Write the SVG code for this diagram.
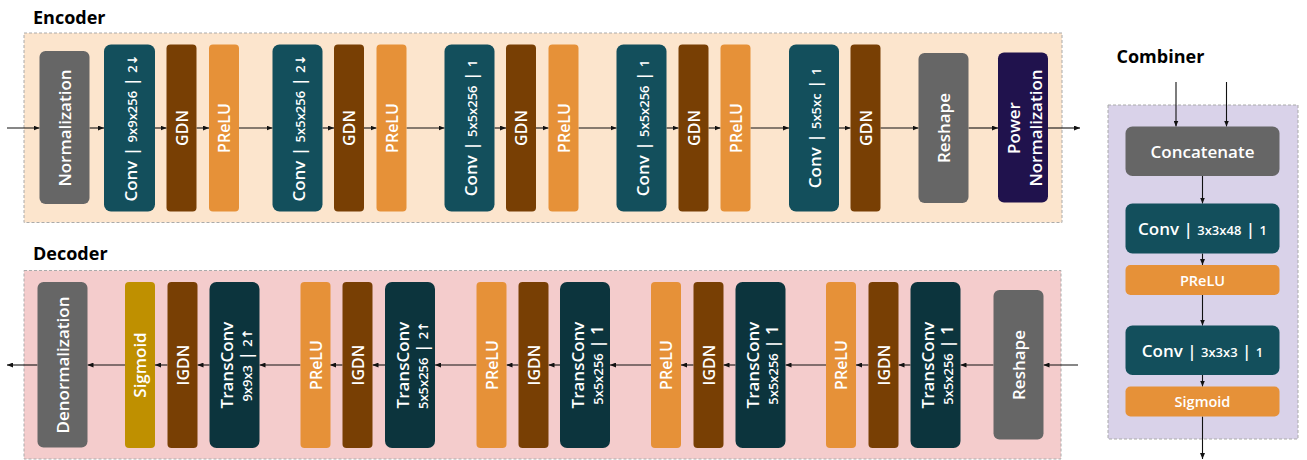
<svg xmlns="http://www.w3.org/2000/svg" width="1307" height="460" viewBox="0 0 1307 460">
<defs>
<marker id="ah" viewBox="0 0 6 5" refX="6" refY="2.5" markerWidth="6" markerHeight="5" markerUnits="userSpaceOnUse" orient="auto">
<path d="M0,0 L6,2.5 L0,5 z" fill="#111"/>
</marker>
<style>
.frame{stroke:#aaaaaa;stroke-width:1;stroke-dasharray:3,2}
.grey{fill:#666666}
.conv{fill:#134f5c}
.tconv{fill:#0c343d}
.gdn{fill:#783f04}
.prelu{fill:#e69138}
.pnorm{fill:#20124d}
.sig{fill:#bf9000}
.t{font-family:'Open Sans','Noto Sans','DejaVu Sans',sans-serif;font-weight:600;fill:#ffffff;text-anchor:middle;font-size:17px}
.m{font-size:16px}
.s{font-size:13px}
.cs{font-size:14.5px}
.title{font-family:'Open Sans','Noto Sans',sans-serif;font-weight:700;font-size:18px;fill:#000}
.c line{stroke:#111;stroke-width:1.1;marker-end:url(#ah)}
</style>
</defs>
<rect width="1307" height="460" fill="#ffffff"/>

<text class="title" x="33" y="24">Encoder</text>
<text class="title" x="33" y="260">Decoder</text>
<text class="title" x="1116.5" y="63">Combiner</text>

<rect class="frame" x="24" y="33" width="1038" height="189.5" fill="#fce5cd"/>
<rect class="frame" x="24" y="270.5" width="1037" height="188.5" fill="#f4cccc"/>
<rect class="frame" x="1108" y="105" width="190" height="334" fill="#d9d2e9"/>

<g id="connectors" class="c">
<line x1="7" y1="128" x2="39.5" y2="128"/>
<line x1="89.5" y1="128" x2="104" y2="128"/>
<line x1="155" y1="128" x2="166.5" y2="128"/>
<line x1="196.5" y1="128" x2="209" y2="128"/>
<line x1="239" y1="128" x2="272.5" y2="128"/>
<line x1="322.5" y1="128" x2="334" y2="128"/>
<line x1="364" y1="128" x2="376.5" y2="128"/>
<line x1="406.5" y1="128" x2="444.5" y2="128"/>
<line x1="494.5" y1="128" x2="506" y2="128"/>
<line x1="536" y1="128" x2="548.5" y2="128"/>
<line x1="578.5" y1="128" x2="616.5" y2="128"/>
<line x1="666.5" y1="128" x2="678.5" y2="128"/>
<line x1="708.5" y1="128" x2="720.5" y2="128"/>
<line x1="750.5" y1="128" x2="789" y2="128"/>
<line x1="839" y1="128" x2="850.5" y2="128"/>
<line x1="880.5" y1="128" x2="918.5" y2="128"/>
<line x1="968.5" y1="128" x2="998" y2="128"/>
<line x1="1048" y1="128" x2="1080" y2="128"/>

<line x1="1078" y1="365" x2="1043.5" y2="365"/>
<line x1="993.5" y1="365" x2="960.5" y2="365"/>
<line x1="910.5" y1="365" x2="898.5" y2="365"/>
<line x1="868.5" y1="365" x2="856" y2="365"/>
<line x1="826" y1="365" x2="785.5" y2="365"/>
<line x1="735.5" y1="365" x2="723.5" y2="365"/>
<line x1="693.5" y1="365" x2="681" y2="365"/>
<line x1="651" y1="365" x2="610" y2="365"/>
<line x1="560" y1="365" x2="548.5" y2="365"/>
<line x1="518.5" y1="365" x2="506.5" y2="365"/>
<line x1="476.5" y1="365" x2="435" y2="365"/>
<line x1="385" y1="365" x2="372.5" y2="365"/>
<line x1="342.5" y1="365" x2="330" y2="365"/>
<line x1="300.5" y1="365" x2="259.5" y2="365"/>
<line x1="209.5" y1="365" x2="197.5" y2="365"/>
<line x1="167.5" y1="365" x2="155" y2="365"/>
<line x1="125" y1="365" x2="87.5" y2="365"/>
<line x1="37.5" y1="365" x2="7" y2="365"/>

<line x1="1176" y1="82" x2="1176" y2="126.5"/>
<line x1="1226.5" y1="82" x2="1226.5" y2="126.5"/>
<line x1="1202.5" y1="176" x2="1202.5" y2="203.5"/>
<line x1="1202.5" y1="253.5" x2="1202.5" y2="265"/>
<line x1="1202.5" y1="295" x2="1202.5" y2="325.5"/>
<line x1="1202.5" y1="375" x2="1202.5" y2="386.5"/>
<line x1="1202.5" y1="416.5" x2="1202.5" y2="459"/>
</g>

<!-- Encoder -->
<g id="enc-norm"><rect class="grey" x="39.5" y="51" width="50" height="153" rx="6"/>
<text class="t" transform="translate(64.5,128) rotate(-90)" y="6">Normalization</text></g>
<g id="enc-conv1"><rect class="conv" x="104" y="44.5" width="51" height="167" rx="7"/>
<text class="t" transform="translate(129.5,128) rotate(-90)" y="7">Conv | <tspan class="s">9x9x256</tspan> | <tspan class="s">2↓</tspan></text></g>
<g id="enc-gdn1"><rect class="gdn" x="166.5" y="44.5" width="30" height="167" rx="4"/>
<text class="t m" transform="translate(181.5,128) rotate(-90)" y="6">GDN</text></g>
<g id="enc-prelu1"><rect class="prelu" x="209" y="44.5" width="30" height="167" rx="4"/>
<text class="t m" transform="translate(224,128) rotate(-90)" y="6">PReLU</text></g>

<g id="enc-conv2"><rect class="conv" x="272.5" y="44.5" width="50" height="167" rx="7"/>
<text class="t" transform="translate(297.5,128) rotate(-90)" y="7">Conv | <tspan class="s">5x5x256</tspan> | <tspan class="s">2↓</tspan></text></g>
<g id="enc-gdn2"><rect class="gdn" x="334" y="44.5" width="30" height="167" rx="4"/>
<text class="t m" transform="translate(349,128) rotate(-90)" y="6">GDN</text></g>
<g id="enc-prelu2"><rect class="prelu" x="376.5" y="44.5" width="30" height="167" rx="4"/>
<text class="t m" transform="translate(391.5,128) rotate(-90)" y="6">PReLU</text></g>

<g id="enc-conv3"><rect class="conv" x="444.5" y="44.5" width="50" height="167" rx="7"/>
<text class="t" transform="translate(469.5,128) rotate(-90)" y="7">Conv | <tspan class="s">5x5x256</tspan> | <tspan class="s">1</tspan></text></g>
<g id="enc-gdn3"><rect class="gdn" x="506" y="44.5" width="30" height="167" rx="4"/>
<text class="t m" transform="translate(521,128) rotate(-90)" y="6">GDN</text></g>
<g id="enc-prelu3"><rect class="prelu" x="548.5" y="44.5" width="30" height="167" rx="4"/>
<text class="t m" transform="translate(563.5,128) rotate(-90)" y="6">PReLU</text></g>

<g id="enc-conv4"><rect class="conv" x="616.5" y="44.5" width="50" height="167" rx="7"/>
<text class="t" transform="translate(641.5,128) rotate(-90)" y="7">Conv | <tspan class="s">5x5x256</tspan> | <tspan class="s">1</tspan></text></g>
<g id="enc-gdn4"><rect class="gdn" x="678.5" y="44.5" width="30" height="167" rx="4"/>
<text class="t m" transform="translate(693.5,128) rotate(-90)" y="6">GDN</text></g>
<g id="enc-prelu4"><rect class="prelu" x="720.5" y="44.5" width="30" height="167" rx="4"/>
<text class="t m" transform="translate(735.5,128) rotate(-90)" y="6">PReLU</text></g>

<g id="enc-conv5"><rect class="conv" x="789" y="44.5" width="50" height="167" rx="7"/>
<text class="t" transform="translate(814,128) rotate(-90)" y="7">Conv | <tspan class="s">5x5xc</tspan> | <tspan class="s">1</tspan></text></g>
<g id="enc-gdn5"><rect class="gdn" x="850.5" y="44.5" width="30" height="167" rx="4"/>
<text class="t m" transform="translate(865.5,128) rotate(-90)" y="6">GDN</text></g>

<g id="enc-reshape"><rect class="grey" x="918.5" y="53" width="50" height="150" rx="6"/>
<text class="t" transform="translate(943.5,128) rotate(-90)" y="6">Reshape</text></g>
<g id="enc-pnorm"><rect class="pnorm" x="998" y="52.5" width="50" height="150" rx="6"/>
<text class="t" transform="translate(1023,128) rotate(-90)"><tspan x="0" y="-3.5">Power</tspan><tspan x="0" y="18.5">Normalization</tspan></text></g>

<!-- Decoder -->
<g id="dec-denorm"><rect class="grey" x="37.5" y="282" width="50" height="165.5" rx="6"/>
<text class="t" transform="translate(62.5,365) rotate(-90)" y="6">Denormalization</text></g>
<g id="dec-sigmoid"><rect class="sig" x="125" y="282" width="30" height="166" rx="4"/>
<text class="t" transform="translate(140,365) rotate(-90)" y="6">Sigmoid</text></g>
<g id="dec-igdn1"><rect class="gdn" x="167.5" y="282" width="30" height="166" rx="4"/>
<text class="t m" transform="translate(182.5,365) rotate(-90)" y="6">IGDN</text></g>
<g id="dec-tconv1"><rect class="tconv" x="209.5" y="282" width="50" height="166" rx="7"/>
<text class="t" transform="translate(234.5,365) rotate(-90)"><tspan x="0" y="-1.5">TransConv</tspan><tspan x="0" y="17.5"><tspan class="s">9x9x3</tspan> | <tspan class="s">2↑</tspan></tspan></text></g>

<g id="dec-prelu2"><rect class="prelu" x="300.5" y="282" width="30" height="166" rx="4"/>
<text class="t m" transform="translate(315.5,365) rotate(-90)" y="6">PReLU</text></g>
<g id="dec-igdn2"><rect class="gdn" x="342.5" y="282" width="30" height="166" rx="4"/>
<text class="t m" transform="translate(357.5,365) rotate(-90)" y="6">IGDN</text></g>
<g id="dec-tconv2"><rect class="tconv" x="385" y="282" width="50" height="166" rx="7"/>
<text class="t" transform="translate(410,365) rotate(-90)"><tspan x="0" y="-1.5">TransConv</tspan><tspan x="0" y="17.5"><tspan class="s">5x5x256</tspan> | <tspan class="s">2↑</tspan></tspan></text></g>

<g id="dec-prelu3"><rect class="prelu" x="476.5" y="282" width="30" height="166" rx="4"/>
<text class="t m" transform="translate(491.5,365) rotate(-90)" y="6">PReLU</text></g>
<g id="dec-igdn3"><rect class="gdn" x="518.5" y="282" width="30" height="166" rx="4"/>
<text class="t m" transform="translate(533.5,365) rotate(-90)" y="6">IGDN</text></g>
<g id="dec-tconv3"><rect class="tconv" x="560" y="282" width="50" height="166" rx="7"/>
<text class="t" transform="translate(585,365) rotate(-90)"><tspan x="0" y="-1.5">TransConv</tspan><tspan x="0" y="17.5"><tspan class="s">5x5x256</tspan> | 1</tspan></text></g>

<g id="dec-prelu4"><rect class="prelu" x="651" y="282" width="30" height="166" rx="4"/>
<text class="t m" transform="translate(666,365) rotate(-90)" y="6">PReLU</text></g>
<g id="dec-igdn4"><rect class="gdn" x="693.5" y="282" width="30" height="166" rx="4"/>
<text class="t m" transform="translate(708.5,365) rotate(-90)" y="6">IGDN</text></g>
<g id="dec-tconv4"><rect class="tconv" x="735.5" y="282" width="50" height="166" rx="7"/>
<text class="t" transform="translate(760.5,365) rotate(-90)"><tspan x="0" y="-1.5">TransConv</tspan><tspan x="0" y="17.5"><tspan class="s">5x5x256</tspan> | 1</tspan></text></g>

<g id="dec-prelu5"><rect class="prelu" x="826" y="282" width="30" height="166" rx="4"/>
<text class="t m" transform="translate(841,365) rotate(-90)" y="6">PReLU</text></g>
<g id="dec-igdn5"><rect class="gdn" x="868.5" y="282" width="30" height="166" rx="4"/>
<text class="t m" transform="translate(883.5,365) rotate(-90)" y="6">IGDN</text></g>
<g id="dec-tconv5"><rect class="tconv" x="910.5" y="282" width="50" height="166" rx="7"/>
<text class="t" transform="translate(935.5,365) rotate(-90)"><tspan x="0" y="-1.5">TransConv</tspan><tspan x="0" y="17.5"><tspan class="s">5x5x256</tspan> | 1</tspan></text></g>

<g id="dec-reshape"><rect class="grey" x="993.5" y="290" width="50" height="149.5" rx="6"/>
<text class="t" transform="translate(1018.5,365) rotate(-90)" y="6">Reshape</text></g>

<!-- Combiner -->
<g id="comb-concat"><rect class="grey" x="1125.5" y="126.5" width="154" height="49.5" rx="7"/>
<text class="t" x="1202.5" y="157.5">Concatenate</text></g>
<g id="comb-conv1"><rect class="conv" x="1125.5" y="203.5" width="154" height="50" rx="7"/>
<text class="t" x="1202.5" y="235">Conv | <tspan class="s">3x3x48</tspan> | <tspan class="s">1</tspan></text></g>
<g id="comb-prelu"><rect class="prelu" x="1125.5" y="265" width="154" height="30" rx="5"/>
<text class="t cs" x="1202.5" y="285.5">PReLU</text></g>
<g id="comb-conv2"><rect class="conv" x="1125.5" y="325.5" width="154" height="49.5" rx="7"/>
<text class="t" x="1202.5" y="357">Conv | <tspan class="s">3x3x3</tspan> | <tspan class="s">1</tspan></text></g>
<g id="comb-sigmoid"><rect class="prelu" x="1125.5" y="386.5" width="154" height="30" rx="5"/>
<text class="t cs" x="1202.5" y="406.5">Sigmoid</text></g>
</svg>
